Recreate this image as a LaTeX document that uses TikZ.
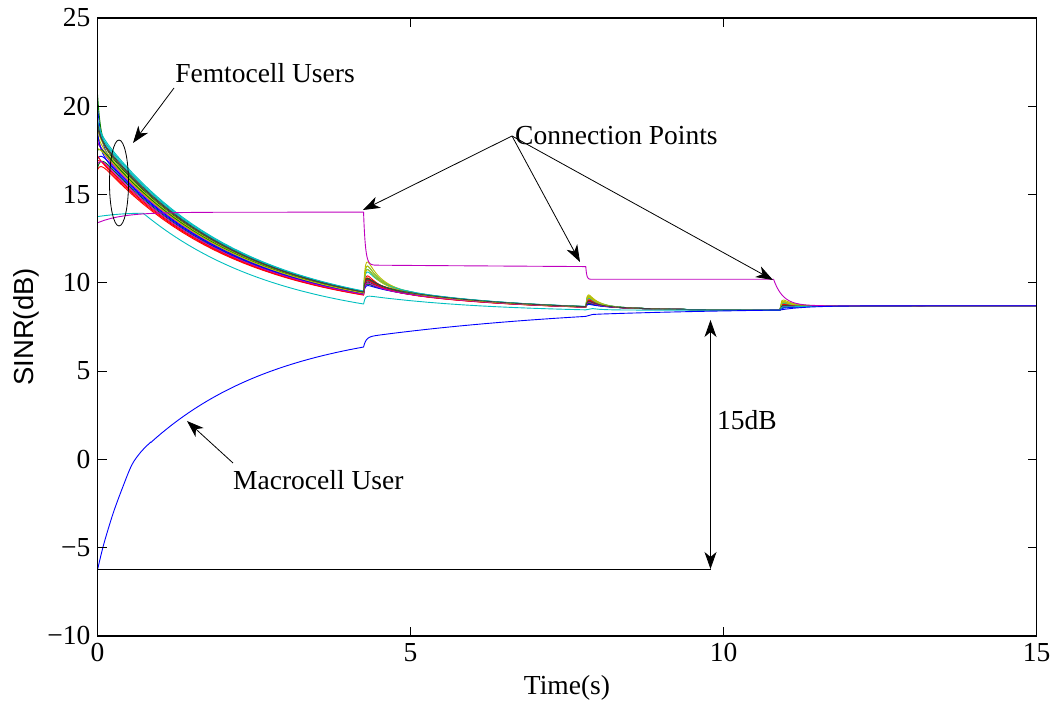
\documentclass[tikz,border=0pt]{standalone}
\usepackage{fontspec}
\setmainfont{Liberation Serif}
\newfontfamily\labelsans{Liberation Sans}
\usetikzlibrary{arrows.meta,shapes.geometric}

% MATLAB default line colours
\definecolor{mb}{rgb}{0,0,1}
\definecolor{mg}{rgb}{0,0.5,0}
\definecolor{mr}{rgb}{1,0,0}
\definecolor{mc}{rgb}{0,0.75,0.75}
\definecolor{mm}{rgb}{0.75,0,0.75}
\definecolor{my}{rgb}{0.75,0.75,0}
\definecolor{mk}{rgb}{0.25,0.25,0.25}

\tikzset{
  lbl/.style={inner sep=0pt, font=\fontsize{27.5}{33}\selectfont},
  arr/.style={-{Stealth[length=17pt,width=12pt,inset=5pt]}, line width=0.8pt},
  darr/.style={{Stealth[length=17pt,width=12pt,inset=5pt]}-{Stealth[length=17pt,width=12pt,inset=5pt]}, line width=0.8pt},
  curve/.style={line width=0.9pt, line join=round},
}

\begin{document}
\begin{tikzpicture}[x=1pt, y=1pt,
  declare function={ex(\t)=exp(-min(\t,9));}]
\useasboundingbox (0,0) rectangle (1057,701);

% ---------- data area: t in [0,15] s, SINR in [-10,25] dB ----------
\begin{scope}[shift={(97.5pt,241.6pt)}, x=62.6pt, y=17.657pt]

  % femtocell users
  \foreach \col/\fa/\fs/\fp/\fq/\fr in {
      mb/9.9/2.2/0.6/0.4/0.35,  mg/10.1/2.6/0.45/0.3/0.3, mr/9.0/-0.6/1.1/0.6/0.5,
      mc/10.5/0.3/1.6/0.8/0.6,  mm/9.7/0.6/0.75/0.4/0.35, my/10.2/0.5/2.0/0.9/0.75,
      mk/9.9/0.0/0.4/0.25/0.25, mb/9.6/-0.6/0.3/0.15/0.15, mg/9.4/-0.9/0.35/0.2/0.2,
      mr/9.2/-0.3/0.9/0.5/0.45, mc/10.4/0.8/1.35/0.7/0.55, mm/9.8/0.2/0.55/0.35/0.3,
      my/10.0/0.4/1.7/0.8/0.65, mk/10.3/0.5/0.5/0.3/0.25, mb/9.5/1.0/0.2/0.1/0.1,
      mg/9.9/-0.4/0.7/0.4/0.35, mr/9.1/0.1/0.75/0.45/0.4, mc/10.6/0.6/1.1/0.6/0.5,
      mm/9.3/-0.6/0.45/0.3/0.25, my/9.8/-0.2/1.45/0.7/0.55, mk/10.2/0.9/0.6/0.35/0.3}{
    \pgfmathsetmacro\eA{8.0+\fa*exp(-4.25/2.2)}
    \pgfmathsetmacro\eB{8.4+(\eA-8.4+0.4)*exp(-1.775)}
    \pgfmathsetmacro\eC{8.45+(\eB-8.45+0.1)*exp(-3.875)}
    \draw[curve, color=\col]
      plot[domain=0:0.4, samples=26] (\x,{8.0+\fa*exp(-\x/2.2)+\fs*ex(\x/0.05)})
      -- plot[domain=0.4:4.25, samples=25] (\x,{8.0+\fa*exp(-\x/2.2)})
      -- plot[domain=4.25:4.9, samples=41] (\x,{8.4+(\eA-8.4+0.4*(1-ex((\x-4.25)/0.025)))*exp(-(\x-4.25)/2)+\fp*(1-ex((\x-4.25)/0.025))*ex((\x-4.25)/0.22)})
      -- plot[domain=4.9:7.8, samples=15] (\x,{8.4+(\eA-8.4+0.4*(1-ex((\x-4.25)/0.025)))*exp(-(\x-4.25)/2)+\fp*(1-ex((\x-4.25)/0.025))*ex((\x-4.25)/0.22)})
      -- plot[domain=7.8:8.4, samples=31] (\x,{8.45+(\eB-8.45+0.1*(1-ex((\x-7.8)/0.02)))*ex((\x-7.8)/0.8)+\fq*(1-ex((\x-7.8)/0.02))*ex((\x-7.8)/0.15)})
      -- plot[domain=8.4:10.9, samples=8] (\x,{8.45+(\eB-8.45+0.1*(1-ex((\x-7.8)/0.02)))*ex((\x-7.8)/0.8)+\fq*(1-ex((\x-7.8)/0.02))*ex((\x-7.8)/0.15)})
      -- plot[domain=10.9:11.8, samples=31] (\x,{8.7+(\eC-8.7)*ex((\x-10.9)/0.3)+\fr*(1-ex((\x-10.9)/0.02))*ex((\x-10.9)/0.2)})
      -- plot[domain=11.8:15, samples=3] (\x,{8.7+(\eC-8.7)*ex((\x-10.9)/0.3)+\fr*(1-ex((\x-10.9)/0.02))*ex((\x-10.9)/0.2)});
  }

  % late-connecting femtocell user (cyan)
  \draw[curve, color=mc]
    plot[domain=0:0.73, samples=15] (\x,{13.94-0.19*((0.73-\x)/0.73)^2})
    -- plot[domain=0.73:4.25, samples=30] (\x,{7.5+6.44*exp(-(\x-0.73)/2.2)})
    -- plot[domain=4.25:4.7, samples=25] (\x,{8.3+(0.5+0.5*(1-ex((\x-4.25)/0.025)))*exp(-(\x-4.25)/2.0)})
    -- plot[domain=4.7:7.8, samples=12] (\x,{8.3+(0.5+0.5*(1-ex((\x-4.25)/0.025)))*exp(-(\x-4.25)/2.0)})
    -- plot[domain=7.8:10.9, samples=30] (\x,{8.45+0.02*ex((\x-7.8)/0.8)+0.15*(1-ex((\x-7.8)/0.02))*ex((\x-7.8)/0.15)})
    -- plot[domain=10.9:11.8, samples=31] (\x,{8.7-0.25*ex((\x-10.9)/0.3)+0.2*(1-ex((\x-10.9)/0.02))*ex((\x-10.9)/0.2)})
    -- plot[domain=11.8:15, samples=3] (\x,{8.7});

  % femtocell user that keeps switching (magenta)
  \draw[curve, color=mm]
    plot[domain=0:4.25, samples=40] (\x,{14.0-0.6*ex(\x/0.4)})
    -- plot[domain=4.25:4.45, samples=30] (\x,{11.0-0.08*(\x-4.25)/3.55+3.0*ex((\x-4.25)/0.03)})
    -- plot[domain=4.45:7.8, samples=5] (\x,{11.0-0.08*(\x-4.25)/3.55+3.0*ex((\x-4.25)/0.03)})
    -- plot[domain=7.8:7.9, samples=20] (\x,{10.2+0.72*ex((\x-7.8)/0.015)})
    -- plot[domain=7.9:10.8, samples=3] (\x,{10.2})
    -- plot[domain=10.8:11.6, samples=40] (\x,{8.7+1.5*ex((\x-10.8)/0.15)})
    -- plot[domain=11.6:15, samples=3] (\x,{8.7});

  % macrocell user
  \draw[curve, color=mb]
    plot[smooth, tension=0.5] coordinates {(0,-6.26) (0.1,-4.8) (0.25,-3.05) (0.4,-1.6) (0.55,-0.3) (0.7,0.45) (0.85,0.98)}
    -- plot[domain=0.85:4.25, samples=40] (\x,{7.7-7.6*exp(-(\x-0.6)/2.1)})
    -- plot[domain=4.25:4.6, samples=25] (\x,{8.4-2.03*exp(-(\x-4.25)/4.08)+0.55*(1-ex((\x-4.25)/0.04))})
    -- plot[domain=4.6:7.8, samples=15] (\x,{8.4-2.03*exp(-(\x-4.25)/4.08)+0.55*(1-ex((\x-4.25)/0.04))})
    -- plot[domain=7.8:10.9, samples=30] (\x,{8.5-0.4*exp(-(\x-7.8)/3)+0.1*(1-ex((\x-7.8)/0.04))})
    -- plot[domain=10.9:15, samples=40] (\x,{8.7-0.24*ex((\x-10.9)/0.4)});

  % axes box with inward ticks
  \draw[line width=1.2pt] (0,-10) rectangle (15,25);
  \foreach \yv/\yt in {25/25,20/20,15/15,10/10,5/5,0/0,-5/−5,-10/−10}{
    \draw[line width=0.7pt] (0,\yv) -- ++(9pt,0);
    \draw[line width=0.7pt] (15,\yv) -- ++(-9pt,0);
    \node[lbl, anchor=east] (yt\yv) at ([xshift=-7pt]0,\yv) {\yt};
  }
  \foreach \xv in {0,5,10,15}{
    \draw[line width=0.7pt] (\xv,-10) -- ++(0,9pt);
    \draw[line width=0.7pt] (\xv,25) -- ++(0,-9pt);
    \node[lbl, anchor=north] (xt\xv) at ([yshift=-7pt]\xv,-10) {\xv};
  }
\end{scope}

% axis titles
\node[lbl, anchor=base] (xlabel) at (567,6) {Time(s)};
\node[lbl, anchor=base, rotate=90, font=\labelsans\fontsize{27.5}{33}\selectfont] (ylabel) at (33,374) {SINR(dB)};

% femtocell annotation
\node[lbl, anchor=base] (femto) at (265,618) {Femtocell Users};
\node[draw, ellipse, line width=0.8pt, minimum width=19pt, minimum height=86pt, inner sep=0pt] (group) at (119,518) {};
\coordinate (femtoFrom) at (174,613);
\coordinate (femtoTip) at (133,558);
\draw[arr] (femtoFrom) -- (femtoTip);

% connection points annotation
\node[lbl, anchor=base west] (conn) at (515,556) {Connection Points};
\coordinate (connFrom) at (512,565);
\coordinate (connA) at (363,491);
\coordinate (connB) at (580,439);
\coordinate (connC) at (773,421);
\draw[arr] (connFrom) -- (connA);
\draw[arr] (connFrom) -- (connB);
\draw[arr] (connFrom) -- (connC);

% macrocell annotation
\node[lbl, anchor=base west] (macro) at (233,211) {Macrocell User};
\coordinate (macroFrom) at (233,238);
\coordinate (macroTip) at (187,280);
\draw[arr] (macroFrom) -- (macroTip);

% 15 dB gap marker
\node[lbl, anchor=base west] (gap) at (717,271) {15dB};
\coordinate (gapTop) at (710.5,381);
\coordinate (gapBot) at (710.5,132);
\coordinate (gapStart) at (97.5,132);
\draw[line width=0.8pt] (gapStart) -- (gapBot);
\draw[darr] (gapBot) -- (gapTop);
\end{tikzpicture}
\end{document}
